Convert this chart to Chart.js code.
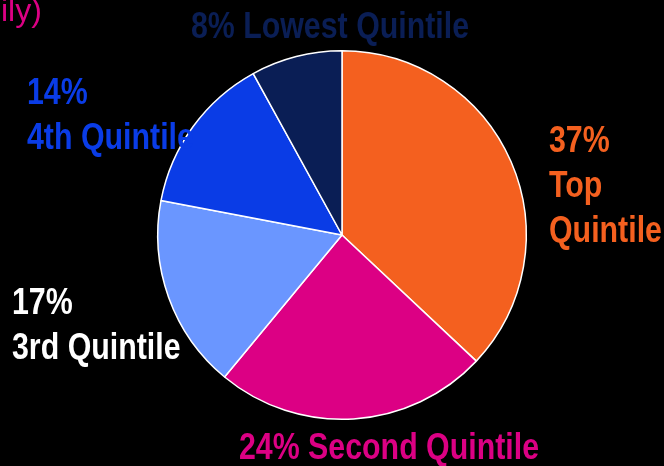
<!DOCTYPE html>
<html>
<head>
<meta charset="utf-8">
<style>
  html, body { margin: 0; padding: 0; background: #000; }
  #pie { display: block; }
</style>
</head>
<body>
<canvas id="pie" width="664" height="466"></canvas>
<script src="https://cdn.jsdelivr.net/npm/chart.js@4"></script>
<script>
  // chart data
  const categories = ['Top Quintile', 'Second Quintile', '3rd Quintile', '4th Quintile', 'Lowest Quintile'];
  const shares = [37, 24, 17, 14, 8];
  const sliceColors = ['#F4601F', '#DC0084', '#6A96FF', '#0A3CE6', '#0A1E55'];

  // label text per slice (lines), and where each one sits
  const labelLines = [
    ['37%', 'Top', 'Quintile'],
    ['24% Second Quintile'],
    ['17%', '3rd Quintile'],
    ['14%', '4th Quintile'],
    ['8% Lowest Quintile'],
  ];
  const labelColors = ['#F4601F', '#DC0084', '#FFFFFF', '#0A3CE6', '#0A1E55'];
  const labelPos = [
    { x: 549, y: 152, align: 'left' },
    { x: 389, y: 459, align: 'center' },
    { x: 12, y: 314, align: 'left' },
    { x: 27, y: 104, align: 'left' },
    { x: 330, y: 38, align: 'center' },
  ];
  const LINE_GAP = 45;
  // no narrow face installed, so squeeze Liberation Sans Bold instead
  const FONT = 'bold 37px "Liberation Sans", Arial, sans-serif';
  const SQUEEZE = 0.82;

  const sliceLabels = {
    id: 'sliceLabels',
    afterDraw(chart) {
      const c = chart.ctx;
      c.save();
      c.font = FONT;
      c.textBaseline = 'alphabetic';
      labelLines.forEach((lines, i) => {
        const p = labelPos[i];
        c.fillStyle = labelColors[i];
        c.textAlign = p.align;
        lines.forEach((t, j) => {
          c.save();
          c.translate(p.x, p.y + j * LINE_GAP);
          c.scale(SQUEEZE, 1);
          c.fillText(t, 0, 0);
          c.restore();
        });
      });
      // cut-off heading in the corner
      c.font = '32px "Liberation Sans", Arial, sans-serif';
      c.fillStyle = '#DC0084';
      c.textAlign = 'left';
      c.fillText('ily)', 1, 21);
      c.restore();
    },
  };

  new Chart(document.getElementById('pie'), {
    type: 'pie',
    data: {
      labels: categories,
      datasets: [{
        data: shares,
        backgroundColor: sliceColors,
        borderColor: '#FFFFFF',
        borderWidth: 1.5,
      }],
    },
    options: {
      responsive: false,
      animation: false,
      layout: { padding: { left: 157, right: 137, top: 50, bottom: 46 } },
      plugins: {
        legend: { display: false },
        tooltip: { enabled: false },
      },
    },
    plugins: [sliceLabels],
  });
</script>
</body>
</html>
